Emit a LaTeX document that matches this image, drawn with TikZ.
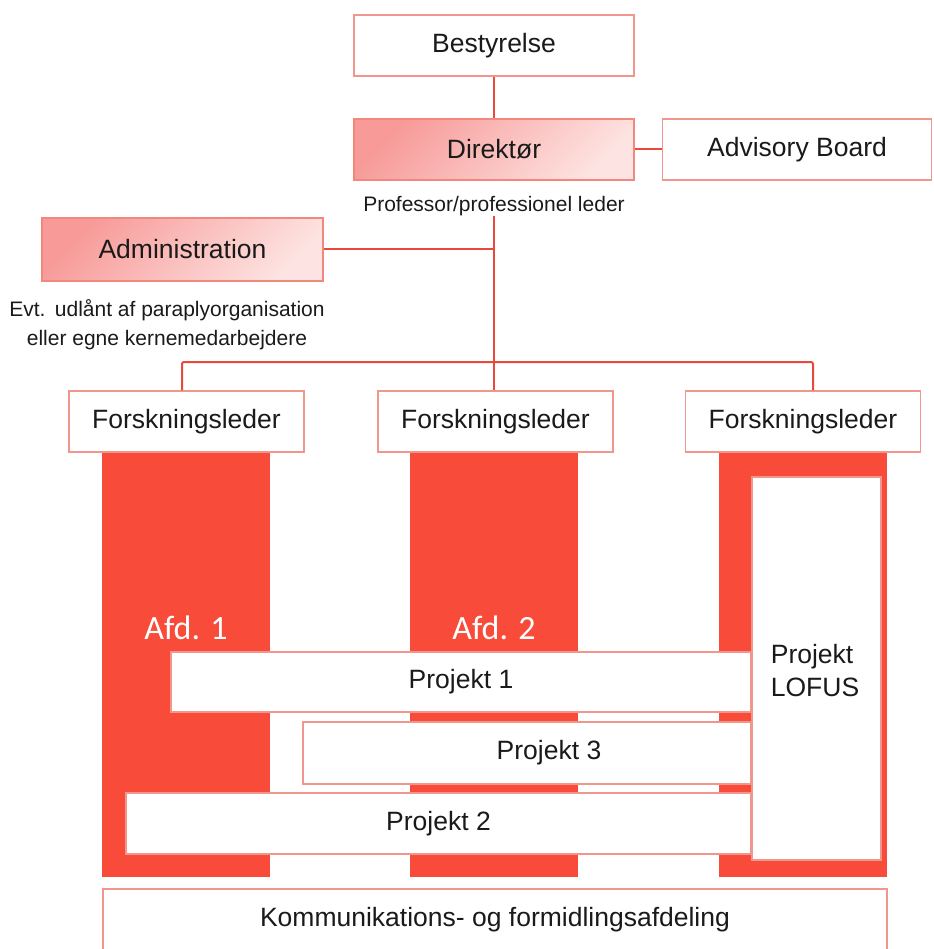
\documentclass[tikz,border=0pt]{standalone}
\usepackage{fontspec}
\setmainfont{Liberation Sans}
\newfontfamily\afdfont{Carlito}
\usetikzlibrary{positioning}

\definecolor{frame}{HTML}{F0968C}
\definecolor{linkred}{HTML}{E9483D}
\definecolor{afdred}{HTML}{F94B3A}
\definecolor{darkpink}{HTML}{F79A98}
\definecolor{lightpink}{HTML}{FDE3E1}
\definecolor{txt}{HTML}{1A1A1A}

\begin{document}
\begin{tikzpicture}[x=1pt,y=-1pt]
    \tikzstyle{box text}=[text=txt,font=\fontsize{26.5}{33}\selectfont]
    \tikzstyle{box}=[rectangle,draw=frame,line width=1.2pt,fill=white,inner sep=0pt,box text]
    \tikzstyle{lead box}=[box,top color=darkpink,bottom color=lightpink,shading angle=45,draw=frame!90!red];
    \tikzstyle{afd column}=[rectangle,fill=afdred,inner sep=0pt,minimum width=168pt,minimum height=425pt];
    \tikzstyle{afd label}=[text=white,font=\afdfont\fontsize{34}{40}\selectfont];
    \tikzstyle{note}=[text=txt,font=\fontsize{21}{29}\selectfont,align=center,inner sep=0pt]
    \tikzstyle{link}=[draw=linkred,line width=2pt]

    \useasboundingbox (0,0) rectangle (933,949);

    % Draw the management boxes
    \node[box,minimum width=280pt,minimum height=61pt] (best) at (494,45.5) {Bestyrelse};
    \node[lead box,minimum width=280pt,minimum height=61pt] (dir) at (494,149.5) {Direktør};
    \node[box,minimum width=269pt,minimum height=61pt] (adv) at (797,149.5) {Advisory Board};
    \node[note] (prof) at (494,206) {Professor/professionel leder};
    \node[lead box,minimum width=281pt,minimum height=63pt] (adm) at (182.5,249.5) {Administration};
    \node[note] (evt) at (167,325) {Evt.\ \,udlånt af paraplyorganisation\\eller egne kernemedarbejdere};

    % Draw the departments, one column under each research leader
    \foreach \name / \x in {1/186,2/493.5,3/802.5}
        \node[afd column] (A-\name) at (\x,664.5) {};
    \foreach \name / \x in {1/186.5,2/495.5,3/803}
        \node[box,minimum width=235pt,minimum height=61pt] (F-\name) at (\x,421.5) {Forskningsleder};
    \node[afd label] (afd-1) at (186,628) {Afd. 1};
    \node[afd label] (afd-2) at (494,628) {Afd. 2};

    % Draw the projects across the departments
    \node[box,minimum width=580pt,minimum height=60pt] (P-1) at (461,682) {Projekt 1};
    \node[box,minimum width=448pt,minimum height=62pt,
          label={[box text,xshift=22pt]center:Projekt 3}] (P-3) at (527,753) {};
    \node[box,minimum width=625pt,minimum height=61pt] (P-2) at (438.5,823.5) {Projekt 2};
    \node[box,minimum width=129pt,minimum height=383pt] (lofus) at (816.5,668.5) {};
    \node[box text,align=left,inner sep=0pt] (lofus-txt) at (815,671) {Projekt\\LOFUS};

    \node[box,minimum width=784pt,minimum height=61pt] (komm) at (495,919.5) {Kommunikations- og formidlingsafdeling};

    % Connect the boxes
    \draw[link] (best) -- (dir);
    \draw[link] (dir) -- (adv);
    \draw[link] (prof.south) -- (prof.south |- F-2.north);
    \draw[link] (adm.east) -- (adm.east -| prof.south);
    \coordinate (bus-l) at (182,362);
    \coordinate (bus-r) at (813,362);
    \draw[link,rounded corners=2pt] (bus-l |- F-1.north) -- (bus-l) -- (bus-r) -- (bus-r |- F-3.north);
\end{tikzpicture}
\end{document}
